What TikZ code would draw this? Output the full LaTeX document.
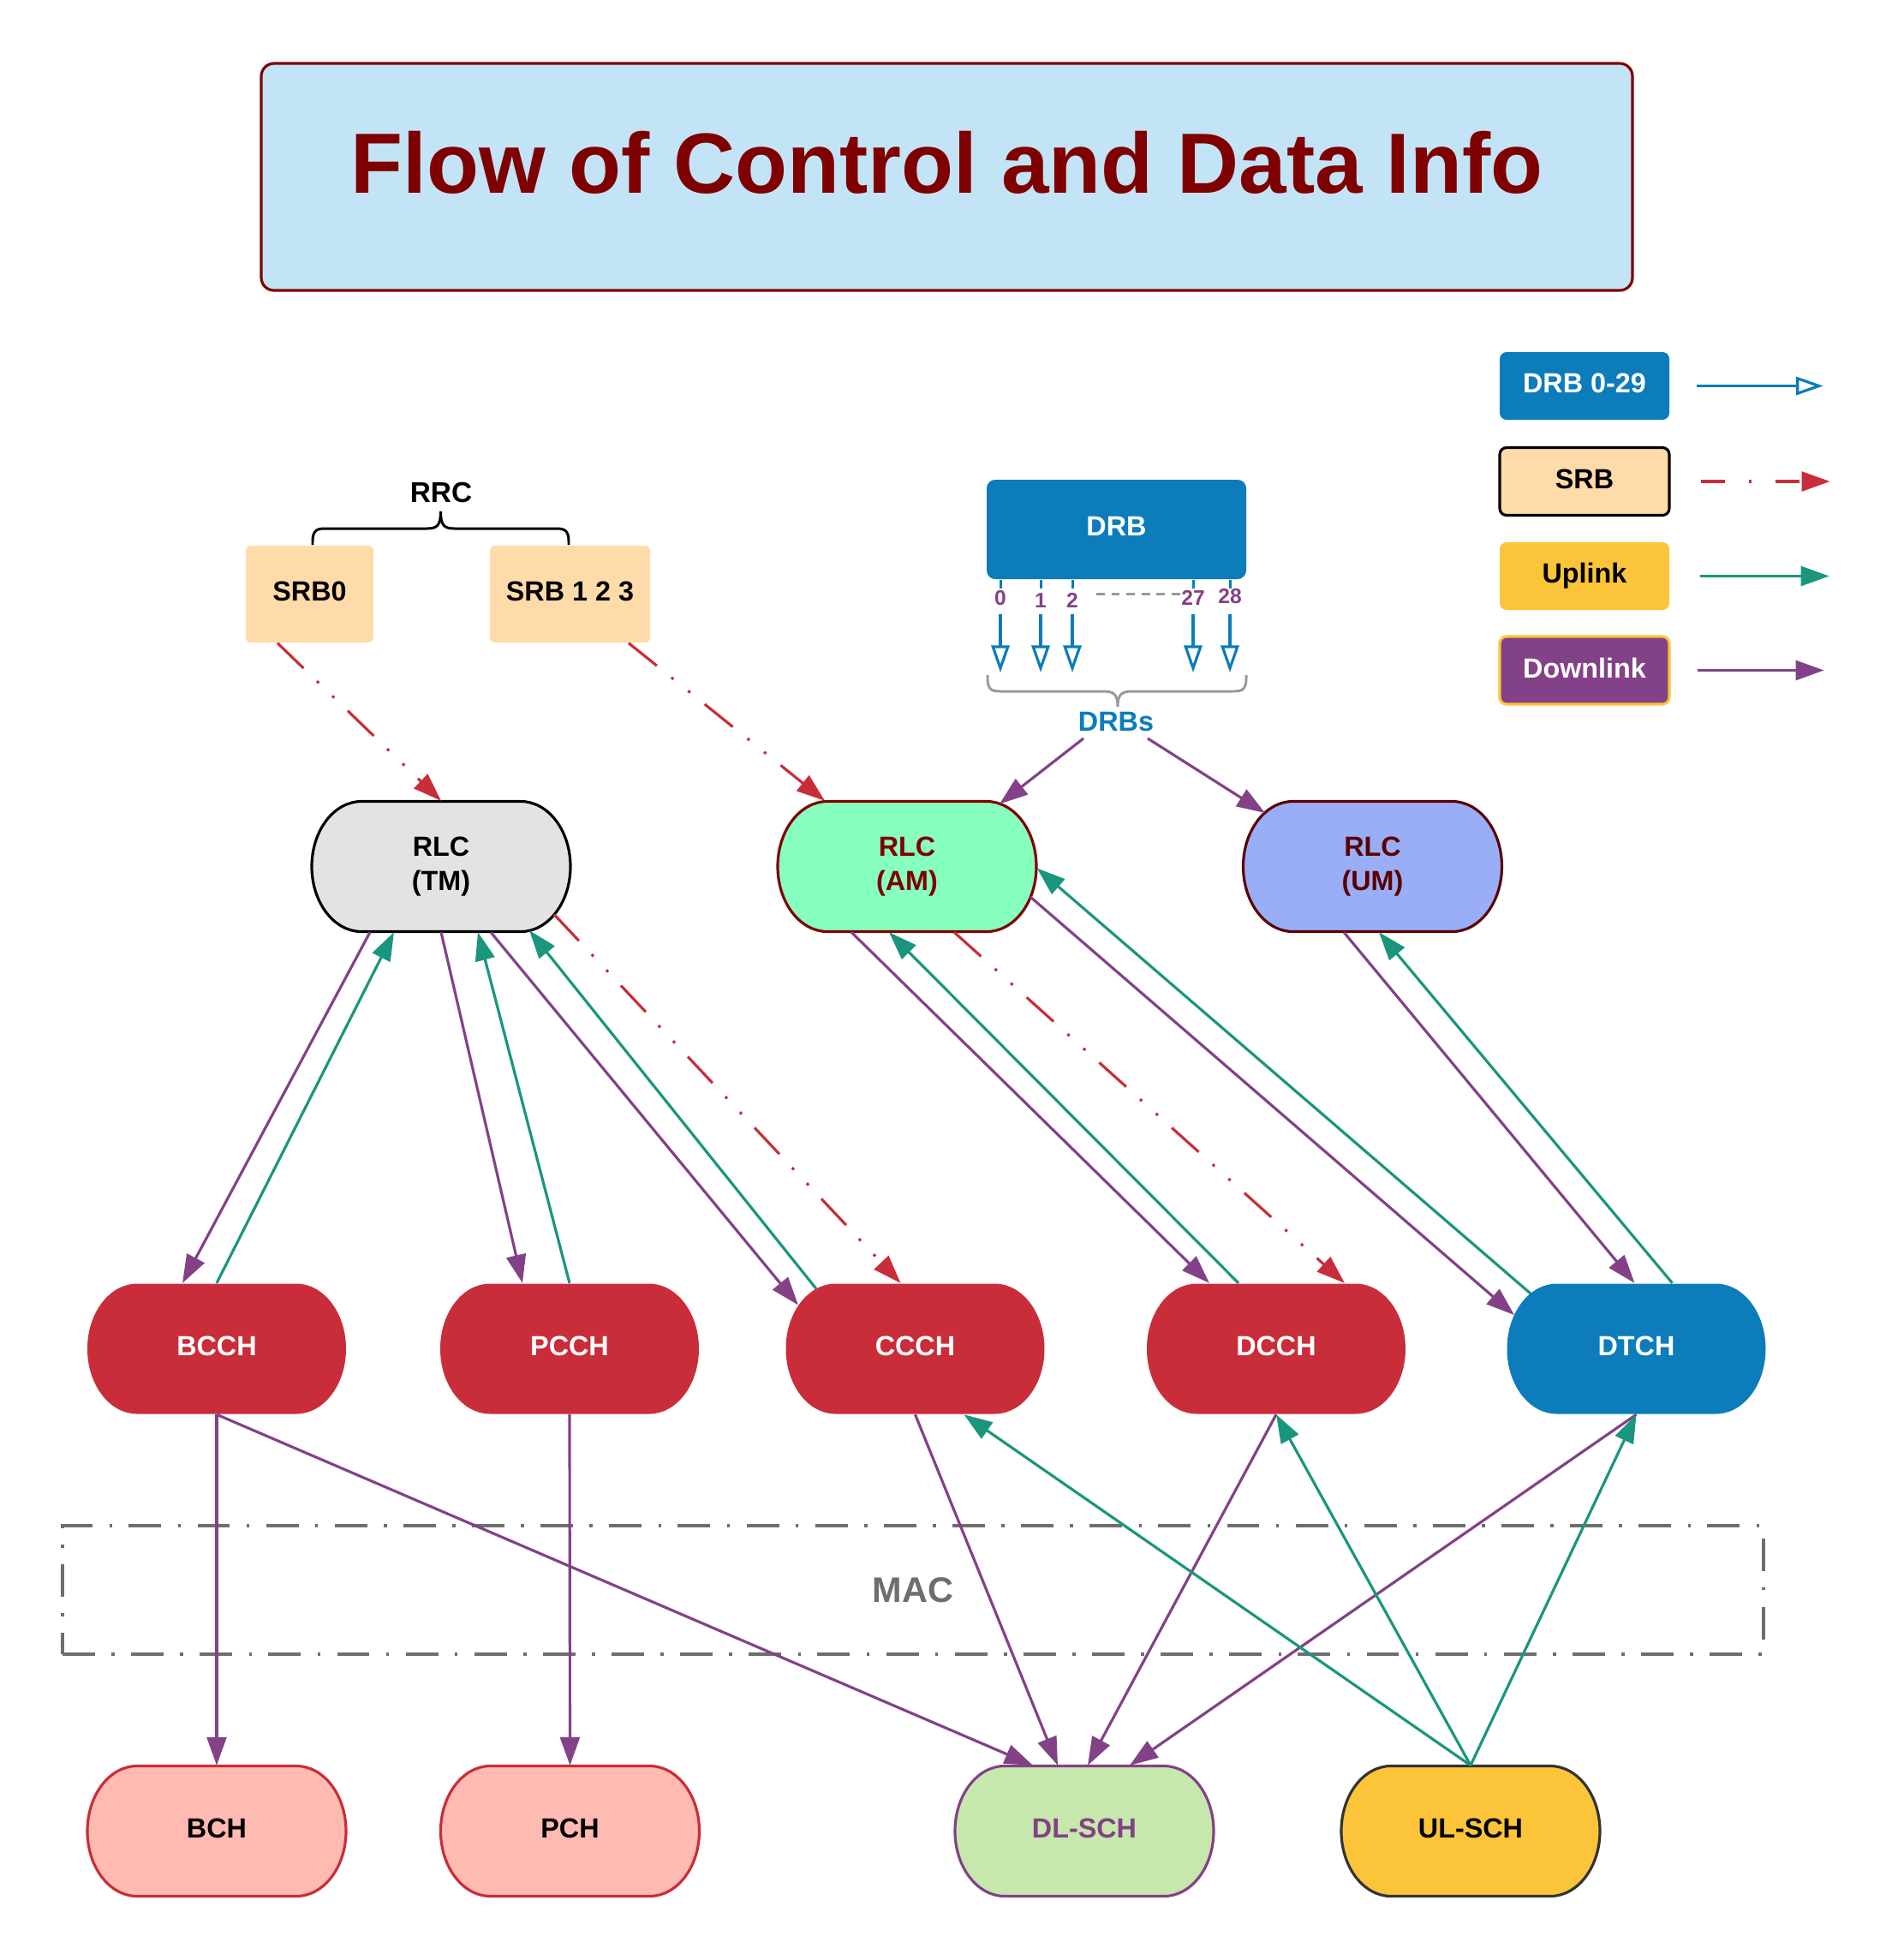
\documentclass[tikz,border=0pt]{standalone}
\usepackage{fontspec}
\setmainfont{Liberation Sans}
\usetikzlibrary{arrows.meta,calc}
\definecolor{cred}{HTML}{C92D39}
\definecolor{cblue}{HTML}{0C7CBA}
\definecolor{cpurple}{HTML}{834187}
\definecolor{cgreen}{HTML}{19967D}
\definecolor{cyellow}{HTML}{FCC438}
\definecolor{cpeach}{HTML}{FFDBA9}
\definecolor{cmint}{HTML}{87FFBF}
\definecolor{cperi}{HTML}{99AEF6}
\definecolor{cpink}{HTML}{FFBBB1}
\definecolor{clgreen}{HTML}{C7E8AC}
\definecolor{cdred}{HTML}{7F0000}
\definecolor{cumred}{HTML}{5C0000}
\definecolor{ctitle}{HTML}{C2E4F6}
\definecolor{cgray}{HTML}{6E6E6E}
\definecolor{cbrace}{HTML}{999999}
\definecolor{cgrtl}{HTML}{E3E3E3}
\definecolor{cdark}{HTML}{333333}
\tikzset{
  lbl/.style={font=\fontsize{9.2}{11.4}\selectfont\bfseries, align=center, inner sep=0pt},
  tbox/.style={lbl, minimum width=3.02cm, minimum height=1.52cm},
  onel/.style={text depth=1.8pt},
  srbbox/.style={lbl, fill=cpeach, rounded corners=0.06cm, minimum height=1.13cm},
  lgbox/.style={lbl, rounded corners=0.08cm, minimum width=1.98cm, minimum height=0.79cm},
  numlbl/.style={font=\fontsize{7}{8}\selectfont\bfseries, text=cpurple, inner sep=0.5pt},
  arrtip/.style={-{Triangle[length=9.4pt,width=6.5pt]}},
  dlink/.style={draw=cpurple, line width=0.9pt, arrtip},
  ulink/.style={draw=cgreen, line width=0.9pt, arrtip},
  srbline/.style={draw=cred, line width=0.9pt, arrtip, dash pattern=on 12pt off 6.2pt on 0.9pt off 6.2pt on 0.9pt off 6.2pt},
  drbline/.style={draw=cblue, line width=0.9pt, -{Triangle[open,length=9pt,width=6pt]}},
  macbox/.style={draw=cgray, line width=0.95pt, dash pattern=on 10.8pt off 5.5pt on 1pt off 5.5pt,
    minimum width=19.86cm, minimum height=1.50cm, text=cgray, font=\fontsize{11.8}{13}\selectfont\bfseries},
}
\newcommand{\mytshape}[3]{%
  \path[#3] (#1-0.93,#2+0.76) -- (#1+0.93,#2+0.76)
    arc[start angle=90,end angle=-90,x radius=0.58cm,y radius=0.76cm]
    -- (#1-0.93,#2-0.76)
    arc[start angle=270,end angle=90,x radius=0.58cm,y radius=0.76cm] -- cycle;}
\newcommand{\mytnode}[6]{\mytshape{#2}{#3}{#4}\node[tbox,#5] (#1) at (#2,#3) {#6};}
\begin{document}
\begin{tikzpicture}
\useasboundingbox (0,0) rectangle (22.01,-22.88);
\fill[white] (0,0) rectangle (22.01,-22.88);

% title
\node[draw=cdred, line width=0.9pt, fill=ctitle, rounded corners=0.15cm,
  minimum width=16.01cm, minimum height=2.65cm, inner sep=0pt, text=cdred,
  font=\fontsize{28.4}{34}\selectfont\bfseries, text height=20.6pt, text depth=9.6pt]
  (title) at (11.055,-2.065) {Flow of Control and Data Info};

% legend
\node[lgbox, fill=cblue, text=white, onel] (lgdrb) at (18.50,-4.505) {DRB 0-29};
\node[lgbox, fill=cpeach, draw=black, line width=0.9pt, onel] (lgsrb) at (18.50,-5.62) {SRB};
\node[lgbox, fill=cyellow] (lgup) at (18.50,-6.725) {Uplink};
\node[lgbox, fill=cpurple, draw=cyellow, line width=0.9pt, text=white, onel] (lgdl) at (18.50,-7.825) {Downlink};
\coordinate (lgdrbE) at ([xshift=1.79cm]lgdrb.east);
\coordinate (lgsrbE) at ([xshift=1.86cm]lgsrb.east);
\coordinate (lgupE) at ([xshift=1.86cm]lgup.east);
\coordinate (lgdlE) at ([xshift=1.79cm]lgdl.east);
\draw[drbline] ([xshift=0.31cm]lgdrb.east) -- (lgdrbE);
\draw[draw=cred, line width=0.9pt, arrtip, dash pattern=on 8pt off 8pt on 0.9pt off 8pt] ([xshift=0.35cm]lgsrb.east) -- (lgsrbE);
\draw[ulink] ([xshift=0.35cm]lgup.east) -- (lgupE);
\draw[dlink] ([xshift=0.31cm]lgdl.east) -- (lgdlE);

% RRC
\node[lbl, font=\fontsize{9.5}{11}\selectfont\bfseries] (rrc) at (5.15,-5.75) {RRC};
\draw[black, line width=0.85pt]
  (3.65,-6.36) -- (3.65,-6.32) .. controls (3.65,-6.17) and (3.72,-6.17) .. (3.82,-6.17)
  -- (4.98,-6.17) .. controls (5.10,-6.17) and (5.145,-6.14) .. (5.145,-5.97)
  .. controls (5.145,-6.14) and (5.19,-6.17) .. (5.31,-6.17)
  -- (6.47,-6.17) .. controls (6.57,-6.17) and (6.64,-6.17) .. (6.64,-6.32) -- (6.64,-6.36);
\node[srbbox, minimum width=1.49cm, onel] (srb0) at (3.615,-6.935) {SRB0};
\node[srbbox, minimum width=1.87cm, onel] (srb123) at (6.655,-6.935) {SRB 1 2 3};

% DRB
\node[lbl, fill=cblue, text=white, rounded corners=0.1cm, minimum width=3.03cm, minimum height=1.16cm, onel] (drb) at (13.035,-6.18) {DRB};
\node[numlbl] (n0) at (11.68,-6.98) {0};
\node[numlbl] (n1) at (12.15,-7.01) {1};
\node[numlbl] (n2) at (12.52,-7.01) {2};
\node[numlbl] (n27) at (13.93,-6.98) {27};
\node[numlbl] (n28) at (14.36,-6.96) {28};
\coordinate (tickend) at (0,-6.87);
\coordinate (drbtop) at (0,-7.17);
\coordinate (drbbot) at (0,-7.85);
\foreach \n in {n0,n1,n2,n27,n28}{
  \draw[cblue, line width=0.85pt] (drb.south -| \n) -- (\n |- tickend);
  \draw[drbline] (\n |- drbtop) -- (\n |- drbbot);
}
\draw[cbrace, line width=0.85pt, dash pattern=on 2.8pt off 2.2pt] (12.80,-6.93) -- (13.80,-6.93);
\draw[cbrace, line width=0.85pt]
  (11.53,-7.88) -- (11.53,-7.92) .. controls (11.53,-8.07) and (11.60,-8.07) .. (11.70,-8.07)
  -- (12.88,-8.07) .. controls (13.00,-8.07) and (13.05,-8.10) .. (13.05,-8.25)
  .. controls (13.05,-8.10) and (13.10,-8.07) .. (13.22,-8.07)
  -- (14.38,-8.07) .. controls (14.48,-8.07) and (14.55,-8.07) .. (14.55,-7.92) -- (14.55,-7.88);
\node[lbl, text=cblue] (drbs) at (13.03,-8.43) {DRBs};

% MAC
\node[macbox] (mac) at (10.66,-18.56) {MAC};

% RLC and channels
\mytnode{rlctm}{5.15}{-10.115}{fill=cgrtl,draw=black,line width=0.9pt}{}{RLC\\(TM)}
\mytnode{rlcam}{10.59}{-10.115}{fill=cmint,draw=cdred,line width=0.9pt}{text=cdred}{RLC\\(AM)}
\mytnode{rlcum}{16.025}{-10.115}{fill=cperi,draw=cumred,line width=0.9pt}{text=cumred}{RLC\\(UM)}
\mytnode{bcch}{2.53}{-15.745}{fill=cred}{text=white,onel}{BCCH}
\mytnode{pcch}{6.65}{-15.745}{fill=cred}{text=white,onel}{PCCH}
\mytnode{ccch}{10.685}{-15.745}{fill=cred}{text=white,onel}{CCCH}
\mytnode{dcch}{14.90}{-15.745}{fill=cred}{text=white,onel}{DCCH}
\mytnode{dtch}{19.105}{-15.745}{fill=cblue}{text=white,onel}{DTCH}
\mytnode{bch}{2.53}{-21.375}{fill=cpink,draw=cred,line width=0.9pt}{onel}{BCH}
\mytnode{pch}{6.655}{-21.375}{fill=cpink,draw=cred,line width=0.9pt}{onel}{PCH}
\mytnode{dlsch}{12.66}{-21.375}{fill=clgreen,draw=cpurple,line width=0.9pt}{text=cpurple,onel}{DL-SCH}
\mytnode{ulsch}{17.17}{-21.375}{fill=cyellow,draw=cdark,line width=0.9pt}{onel}{UL-SCH}

% SRB / DRB connectors
\draw[srbline] ([xshift=-0.375cm]srb0.south) -- (rlctm.north);
\draw[srbline] ([xshift=0.685cm]srb123.south) -- ([xshift=-0.96cm]rlcam.north);
\draw[dlink] ([shift={(-0.38,-0.19)}]drbs.center) -- ([shift={(1.08,0.73)}]rlcam.center);
\draw[dlink] ([shift={(0.37,-0.19)}]drbs.center) -- ([shift={(-1.255,0.625)}]rlcum.center);

% RLC TM
\draw[dlink] ([xshift=-0.83cm]rlctm.south) -- ([xshift=-0.40cm]bcch.north);
\draw[ulink] (bcch.north) -- ([xshift=-0.55cm]rlctm.south);
\draw[dlink] (rlctm.south) -- ([xshift=-0.55cm]pcch.north);
\draw[ulink] (pcch.north) -- ([xshift=0.43cm]rlctm.south);
\draw[dlink] ([xshift=0.58cm]rlctm.south) -- ([shift={(-1.365,0.51)}]ccch.center);
\draw[ulink] ([shift={(-1.155,0.70)}]ccch.center) -- ([shift={(1.03,-0.745)}]rlctm.center);
\draw[srbline] ([shift={(1.32,-0.56)}]rlctm.center) -- ([xshift=-0.17cm]ccch.north);

% RLC AM
\draw[dlink] ([xshift=-0.65cm]rlcam.south) -- ([xshift=-0.78cm]dcch.north);
\draw[ulink] ([xshift=-0.44cm]dcch.north) -- ([xshift=-0.21cm]rlcam.south);
\draw[srbline] ([xshift=0.55cm]rlcam.south) -- ([xshift=0.80cm]dcch.north);
\draw[dlink] ([shift={(1.44,-0.355)}]rlcam.center) -- ([shift={(-1.425,0.395)}]dtch.center);
\draw[ulink] ([shift={(-1.235,0.645)}]dtch.center) -- ([yshift=-0.02cm]rlcam.east);

% RLC UM
\draw[dlink] ([xshift=-0.335cm]rlcum.south) -- ([xshift=-0.02cm]dtch.north);
\draw[ulink] ([xshift=0.42cm]dtch.north) -- ([xshift=0.075cm]rlcum.south);

% transport channels
\draw[dlink] (bcch.south) -- (bch.north);
\draw[dlink] (bcch.south) -- ([xshift=-0.60cm]dlsch.north);
\draw[dlink] (pcch.south) -- (pch.north);
\draw[dlink] (ccch.south) -- ([xshift=-0.31cm]dlsch.north);
\draw[dlink] (dcch.south) -- ([xshift=0.04cm]dlsch.north);
\draw[dlink] (dtch.south) -- ([xshift=0.53cm]dlsch.north);
\draw[ulink] (ulsch.north) -- ([xshift=0.57cm]ccch.south);
\draw[ulink] (ulsch.north) -- (dcch.south);
\draw[ulink] (ulsch.north) -- (dtch.south);
\end{tikzpicture}
\end{document}
